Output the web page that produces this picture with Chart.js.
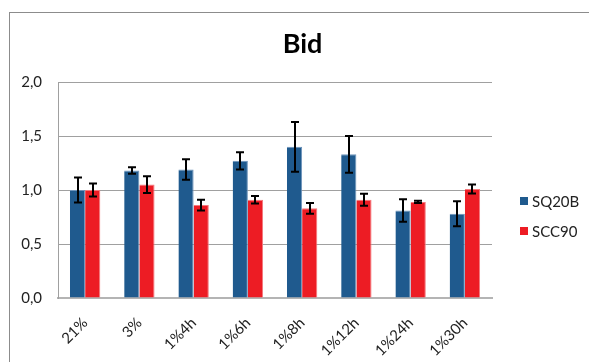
<!DOCTYPE html>
<html>
<head>
<meta charset="utf-8">
<script src="https://cdn.jsdelivr.net/npm/chart.js@4/dist/chart.umd.min.js"></script>
<style>
  body { margin: 0; background: #fff; }
  canvas { display: block; }
</style>
</head>
<body>
<canvas id="bidChart" width="589" height="362"></canvas>
<script>
let categories = ['21%', '3%', '1%4h', '1%6h', '1%8h', '1%12h', '1%24h', '1%30h'];
let sq20b = [1.00, 1.18, 1.19, 1.27, 1.40, 1.33, 0.81, 0.78];
let sq20bErr = [0.115, 0.03, 0.095, 0.08, 0.23, 0.17, 0.105, 0.115];
let scc90 = [1.00, 1.05, 0.86, 0.91, 0.83, 0.91, 0.89, 1.01];
let scc90Err = [0.06, 0.077, 0.05, 0.034, 0.05, 0.056, 0.01, 0.042];
let yTicks = [0, 0.5, 1, 1.5, 2];
let chartTitle = 'Bid';

let fontFamily = 'Lato, "Liberation Sans", sans-serif';

// frame around the whole chart (runs off to the right and bottom like the original)
let framePlugin = {
    id: 'frame',
    beforeDraw: function (chart) {
        let ctx = chart.ctx;
        ctx.save();
        ctx.strokeStyle = '#8c8c8c';
        ctx.lineWidth = 1;
        ctx.strokeRect(9.5, 12.5, 700, 400);
        ctx.restore();
    }
};

// error bars from the err arrays, through the y scale
let errorBarPlugin = {
    id: 'errorBars',
    afterDatasetsDraw: function (chart) {
        let ctx = chart.ctx;
        let yScale = chart.scales.y;
        ctx.save();
        ctx.strokeStyle = '#000';
        ctx.lineWidth = 2;
        chart.data.datasets.forEach(function (ds, i) {
            let meta = chart.getDatasetMeta(i);
            meta.data.forEach(function (bar, j) {
                let v = ds.data[j], e = ds.errors[j];
                let top = yScale.getPixelForValue(v + e);
                let bottom = yScale.getPixelForValue(v - e);
                let x = Math.round(bar.x);
                ctx.beginPath();
                ctx.moveTo(x, top);
                ctx.lineTo(x, bottom);
                ctx.moveTo(x - 4, top);
                ctx.lineTo(x + 4, top);
                ctx.moveTo(x - 4, bottom);
                ctx.lineTo(x + 4, bottom);
                ctx.stroke();
            });
        });
        ctx.restore();
    }
};

// title centred on the whole frame, legend on the right, Excel style
let textPlugin = {
    id: 'excelText',
    afterDraw: function (chart) {
        let ctx = chart.ctx;
        ctx.save();
        ctx.fillStyle = '#000';
        ctx.font = 'bold 27px ' + fontFamily;
        ctx.textAlign = 'center';
        ctx.textBaseline = 'alphabetic';
        ctx.fillText(chartTitle, 302.5, 53);

        ctx.font = '15px ' + fontFamily;
        ctx.textAlign = 'left';
        ctx.textBaseline = 'middle';
        chart.data.datasets.forEach(function (ds, i) {
            let cy = 201 + i * 30;
            ctx.fillStyle = ds.backgroundColor;
            ctx.fillRect(520, cy - 4, 8, 8);
            ctx.fillStyle = '#222';
            ctx.fillText(ds.label, 532, cy + 1);
        });
        ctx.restore();
    }
};

let bidCanvas = document.getElementById('bidChart');
new Chart(bidCanvas, {
    type: 'bar',
    data: {
        labels: categories,
        datasets: [{
            label: 'SQ20B',
            data: sq20b,
            errors: sq20bErr,
            backgroundColor: '#1F5A8E',
            borderColor: '#6d94bb',
            borderWidth: {top: 1, right: 1, left: 0, bottom: 0}
        }, {
            label: 'SCC90',
            data: scc90,
            errors: scc90Err,
            backgroundColor: '#ED1C24',
            borderColor: '#f5797d',
            borderWidth: {top: 1, right: 1, left: 0, bottom: 0}
        }]
    },
    options: {
        responsive: false,
        animation: false,
        events: [],
        layout: {padding: {top: 82, right: 97, left: 10, bottom: 0}},
        datasets: {bar: {categoryPercentage: 0.56, barPercentage: 1}},
        plugins: {
            legend: {display: false},
            tooltip: {enabled: false},
            title: {display: false}
        },
        scales: {
            x: {
                grid: {display: false},
                border: {display: true, color: '#b4b4b4', width: 2},
                ticks: {
                    color: '#222',
                    font: {family: fontFamily, size: 15},
                    minRotation: 45,
                    maxRotation: 45,
                    padding: 8
                },
                afterFit: function (scale) { scale.height = 64; }
            },
            y: {
                min: 0,
                max: 2,
                afterBuildTicks: function (scale) {
                    scale.ticks = yTicks.map(function (v) { return {value: v}; });
                },
                grid: {color: '#a0a0a0', lineWidth: 1, drawTicks: false},
                border: {display: true, color: '#a0a0a0', width: 1},
                ticks: {
                    color: '#222',
                    font: {family: fontFamily, size: 15},
                    padding: 16,
                    callback: function (v) { return v.toFixed(1).replace('.', ','); }
                },
                afterFit: function (scale) { scale.width = 48; }
            }
        }
    },
    plugins: [framePlugin, errorBarPlugin, textPlugin]
});
</script>
</body>
</html>
